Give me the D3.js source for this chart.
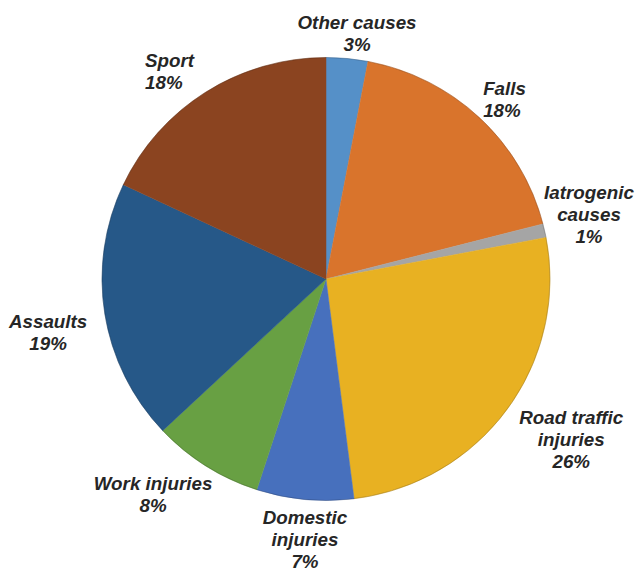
<!DOCTYPE html>
<html>
<head>
<meta charset="utf-8">
<script src="https://cdn.jsdelivr.net/npm/d3@7"></script>
<style>
  html, body { margin: 0; padding: 0; background: #ffffff; }
  svg { display: block; }
  .lbl { font-family: "Liberation Sans", Arial, sans-serif; font-size: 18.8px; font-weight: bold; font-style: italic; fill: #262626; }
</style>
</head>
<body>
<script>
// Causes of injury, share of cases (%), clockwise from 12 o'clock
const categories = ["Other causes", "Falls", "Iatrogenic causes", "Road traffic injuries",
                    "Domestic injuries", "Work injuries", "Assaults", "Sport"];
const shares = [3, 18, 1, 26, 7, 8, 19, 18];
const labelLines = [
  ["Other causes"], ["Falls"], ["Iatrogenic", "causes"], ["Road traffic", "injuries"],
  ["Domestic", "injuries"], ["Work injuries"], ["Assaults"], ["Sport"]
];
const sliceColors = ["#5590c8", "#d9742c", "#a5a5a5", "#e8b122",
                     "#4770bd", "#68a043", "#265888", "#8b4420"];

const W = 635, H = 575;
const cx = 326, cy = 279, R = 224, squash = 221.5 / 224;

// per-label nudges from the ring point where each label sits
const labelRing = 250, lineH = 22;
const labelTweak = {
  "Other causes":          { dx: 7.5, dy: 0.5, anchor: "middle" },
  "Falls":                 { dx: -14, dy: 1, anchor: "start" },
  "Iatrogenic causes":     { dx: 19, dy: -11, anchor: "middle" },
  "Road traffic injuries": { dx: 43, dy: 15, anchor: "middle" },
  "Domestic injuries":     { dx: 2.5, dy: 14.6, anchor: "middle" },
  "Work injuries":         { dx: -39, dy: 6.4, anchor: "middle" },
  "Assaults":              { dx: -31, dy: 14.4, anchor: "middle" },
  "Sport":                 { dx: -47, dy: 1.6, anchor: "start" }
};

const data = categories.map((c, i) => ({ name: c, value: shares[i], lines: labelLines[i], color: sliceColors[i] }));

const svg = d3.select("body").append("svg").attr("width", W).attr("height", H);

const pie = d3.pie().value(d => d.value).sort(null).startAngle(0).endAngle(2 * Math.PI);
const arcs = pie(data);
const arc = d3.arc().innerRadius(0).outerRadius(R);

const g = svg.append("g").attr("transform", `translate(${cx},${cy}) scale(1,${squash})`);
g.selectAll("path.slice")
  .data(arcs)
  .join("path")
  .attr("class", "slice")
  .attr("d", arc)
  .attr("fill", d => d.data.color)
  .attr("stroke", d => d.data.color)
  .attr("stroke-width", 0.5);

// faint darker rim around the pie
g.append("circle").attr("r", R).attr("fill", "none")
  .attr("stroke", "rgba(0,0,0,0.18)").attr("stroke-width", 1);

const labels = svg.append("g");
arcs.forEach(a => {
  const mid = (a.startAngle + a.endAngle) / 2;
  const t = labelTweak[a.data.name];
  const px = cx + labelRing * Math.sin(mid) + t.dx;
  const py = cy - labelRing * Math.cos(mid) * squash + t.dy;
  const lines = a.data.lines.concat([a.data.value + "%"]);
  const n = lines.length;
  const text = labels.append("text").attr("class", "lbl").attr("text-anchor", t.anchor);
  lines.forEach((ln, k) => {
    text.append("tspan")
      .attr("x", px)
      .attr("y", py - (n - 1) * lineH / 2 + 6.5 + k * lineH)
      .text(ln);
  });
});
</script>
</body>
</html>
